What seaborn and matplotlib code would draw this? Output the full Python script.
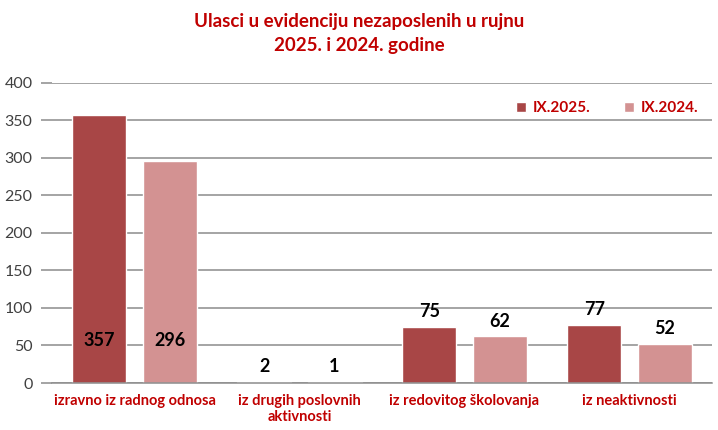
import matplotlib.pyplot as plt
import seaborn as sns
import pandas as pd

categories = ["izravno iz radnog odnosa", "iz drugih poslovnih\naktivnosti",
              "iz redovitog školovanja", "iz neaktivnosti"]
series_names = ["IX.2025.", "IX.2024."]
values_2025 = [357, 2, 75, 77]
values_2024 = [296, 1, 62, 52]
y_ticks = [0, 50, 100, 150, 200, 250, 300, 350, 400]

df = pd.DataFrame({
    "kategorija": categories * 2,
    "serija": [series_names[0]] * 4 + [series_names[1]] * 4,
    "vrijednost": values_2025 + values_2024,
})

sns.set_theme(style="white")
plt.rcParams["font.family"] = ["Lato", "DejaVu Sans"]

red = "#C00000"
grid_col = "#8C8C8C"
palette = {series_names[0]: "#A84646", series_names[1]: "#D39292"}

fig = plt.figure(figsize=(7.18, 4.30), dpi=100)
ax = fig.add_axes([0.0724, 0.1093, 0.9192, 0.6977])

sns.barplot(data=df, x="kategorija", y="vrijednost", hue="serija",
            order=categories, hue_order=series_names, palette=palette,
            width=0.85, gap=0.23, edgecolor="white", linewidth=1,
            saturation=1, ax=ax, zorder=3)

ax.set_ylim(0, 400)
ax.set_yticks(y_ticks)
ax.set_xlim(-0.5, 3.5)
ax.yaxis.grid(True, color=grid_col, linewidth=1.1, zorder=0)
ax.set_axisbelow(True)
for side in ["top", "right", "left"]:
    ax.spines[side].set_visible(False)
ax.spines["bottom"].set_color(grid_col)
ax.spines["bottom"].set_linewidth(1.1)
ax.spines["bottom"].set_zorder(4)
ax.tick_params(axis="y", length=8, width=1.1, color=grid_col,
               labelsize=11.5, labelcolor="#404040", pad=6, left=True)
ax.tick_params(axis="x", length=0, pad=8)
for lbl in ax.get_xticklabels():
    lbl.set_color(red)
    lbl.set_fontweight("bold")
    lbl.set_fontsize(10.5)
ax.set_xlabel("")
ax.set_ylabel("")

# value labels
for cont, vals in zip(ax.containers, [values_2025, values_2024]):
    for rect, v in zip(cont, vals):
        cx = rect.get_x() + rect.get_width() / 2
        if v > 200:
            ax.text(cx, 57, str(v), ha="center", va="center",
                    fontsize=13, fontweight="bold", color="black", zorder=5)
        else:
            ax.annotate(str(v), (cx, v), xytext=(0, 5), textcoords="offset points",
                        ha="center", va="bottom", fontsize=13,
                        fontweight="bold", color="black", zorder=5)

leg = ax.legend(loc="upper right", bbox_to_anchor=(1.0, 0.985), ncol=2,
                frameon=False, handlelength=0.7, handleheight=0.7,
                columnspacing=2.2, handletextpad=0.4,
                prop={"weight": "bold", "size": 11})
for t in leg.get_texts():
    t.set_color(red)

fig.text(0.5, 0.922, "Ulasci u evidenciju nezaposlenih u rujnu\n2025. i 2024. godine",
         ha="center", va="center", fontsize=13.5, fontweight="bold",
         color=red, linespacing=1.45)

fig.savefig("out.png", dpi=100)
